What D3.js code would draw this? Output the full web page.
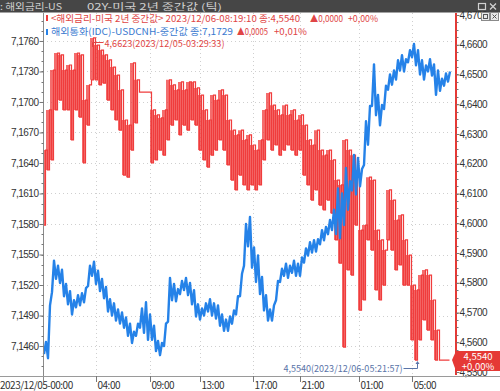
<!DOCTYPE html>
<html>
<head>
<meta charset="utf-8">
<script src="https://cdn.jsdelivr.net/npm/d3@7"></script>
<style>
  body { margin: 0; background: #fff; }
  svg { display: block; font-family: "Noto Sans CJK KR", "Noto Sans", sans-serif; }
</style>
</head>
<body>
<svg id="chart" width="500" height="391"></svg>
<script>
// x axis tick labels and where they sit (in tick-sample index units)
const xTickLabels = ["2023/12/05-00:00", "04:00", "09:00", "13:00", "17:00", "21:00", "01:00", "05:00"];
const xTickIdx = [0, 13.3, 26.8, 39.3, 52.5, 64.3, 79, 92.3];

// left axis (USDCNH) and right axis (US 2Y) tick values
const leftTicks = [7.1460, 7.1490, 7.1520, 7.1550, 7.1580, 7.1610, 7.1640, 7.1670, 7.1700, 7.1730, 7.1760];
const rightTicks = [4.55, 4.56, 4.57, 4.58, 4.59, 4.60, 4.61, 4.62, 4.63, 4.64, 4.65, 4.66, 4.67];

// US 2Y mid (right axis) - high / low of ticks in each sample slot
const redHigh = [4.6246, 4.6381, 4.6515, 4.6572, 4.6566, 4.6515, 4.6532, 4.6515, 4.6572, 4.6566,
  4.6414, 4.6465, 4.6623, 4.6599, 4.6582, 4.6566, 4.6549, 4.6525, 4.6498, 4.6448,
  4.6347, 4.6330, 4.6539, 4.6482, 4.6441, 4.6441, 4.6441, 4.6381, 4.6364, 4.6354,
  4.6381, 4.6482, 4.6465, 4.6448, 4.6475, 4.6448, 4.6475, 4.6475, 4.6455, 4.6431,
  4.6381, 4.6347, 4.6431, 4.6414, 4.6448, 4.6431, 4.6347, 4.6313, 4.6297, 4.6313,
  4.6280, 4.6297, 4.6263, 4.6246, 4.6280, 4.6381, 4.6438, 4.6397, 4.6381, 4.6364,
  4.6397, 4.6364, 4.6381, 4.6347, 4.6364, 4.6330, 4.6280, 4.6263, 4.6313, 4.6246,
  4.6229, 4.6246, 4.6213, 4.6145, 4.6129, 4.6280, 4.6246, 4.6229, 4.6179, 4.5977,
  4.5994, 4.6155, 4.6145, 4.5977, 4.5944, 4.5910, 4.6112, 4.6078, 4.6011, 4.6028,
  4.5944, 4.5893, 4.5792, 4.5776, 4.5826, 4.5843, 4.5826, 4.5742, 4.5641, 4.5540,
  4.5540, 4.5540];
const redLow = [4.5994, 4.6179, 4.6213, 4.6381, 4.6414, 4.6381, 4.6381, 4.6280, 4.6381, 4.6357,
  4.6203, 4.6330, 4.6482, 4.6482, 4.6465, 4.6471, 4.6414, 4.6381, 4.6347, 4.6313,
  4.6162, 4.6155, 4.6246, 4.6337, 4.6441, 4.6441, 4.6441, 4.6203, 4.6213, 4.6246,
  4.6229, 4.6280, 4.6330, 4.6347, 4.6297, 4.6330, 4.6313, 4.6347, 4.6330, 4.6246,
  4.6213, 4.6189, 4.6229, 4.6246, 4.6280, 4.6246, 4.6196, 4.6145, 4.6112, 4.6162,
  4.6129, 4.6112, 4.6129, 4.6112, 4.6129, 4.6213, 4.6280, 4.6246, 4.6263, 4.6229,
  4.6246, 4.6263, 4.6246, 4.6229, 4.6246, 4.6162, 4.6129, 4.6078, 4.6112, 4.6061,
  4.6045, 4.6078, 4.6034, 4.5944, 4.5866, 4.5584, 4.5843, 4.5826, 4.5994, 4.5708,
  4.5742, 4.5944, 4.5910, 4.5776, 4.5742, 4.5792, 4.5944, 4.5910, 4.5843, 4.5860,
  4.5792, 4.5792, 4.5608, 4.5540, 4.5608, 4.5675, 4.5641, 4.5608, 4.5540, 4.5540,
  4.5540, 4.5540];

// USDCNH mid (left axis) - high / low of ticks in each sample slot
const blueHigh = [7.1464, 7.1500, 7.1544, 7.1539, 7.1535, 7.1521, 7.1514, 7.1505, 7.1510, 7.1512,
  7.1517, 7.1539, 7.1543, 7.1534, 7.1526, 7.1518, 7.1506, 7.1502, 7.1496, 7.1493,
  7.1488, 7.1482, 7.1474, 7.1482, 7.1497, 7.1503, 7.1491, 7.1480, 7.1465, 7.1463,
  7.1482, 7.1527, 7.1521, 7.1516, 7.1524, 7.1527, 7.1522, 7.1515, 7.1501, 7.1497,
  7.1502, 7.1506, 7.1502, 7.1500, 7.1491, 7.1486, 7.1489, 7.1495, 7.1509, 7.1531,
  7.1580, 7.1587, 7.1557, 7.1549, 7.1528, 7.1510, 7.1496, 7.1500, 7.1524, 7.1536,
  7.1541, 7.1539, 7.1544, 7.1541, 7.1547, 7.1556, 7.1562, 7.1564, 7.1565, 7.1574,
  7.1577, 7.1584, 7.1594, 7.1615, 7.1610, 7.1635, 7.1622, 7.1648, 7.1645, 7.1634,
  7.1681, 7.1696, 7.1737, 7.1707, 7.1697, 7.1716, 7.1727, 7.1731, 7.1741, 7.1746,
  7.1742, 7.1751, 7.1757, 7.1751, 7.1741, 7.1736, 7.1742, 7.1737, 7.1731, 7.1723,
  7.1728, 7.1730];
const blueLow = [7.1452, 7.1448, 7.1513, 7.1526, 7.1522, 7.1509, 7.1501, 7.1491, 7.1498, 7.1500,
  7.1503, 7.1519, 7.1529, 7.1521, 7.1514, 7.1507, 7.1494, 7.1490, 7.1485, 7.1482,
  7.1478, 7.1470, 7.1463, 7.1470, 7.1478, 7.1473, 7.1466, 7.1466, 7.1455, 7.1451,
  7.1460, 7.1484, 7.1505, 7.1504, 7.1511, 7.1515, 7.1510, 7.1501, 7.1489, 7.1486,
  7.1490, 7.1494, 7.1490, 7.1487, 7.1480, 7.1475, 7.1475, 7.1482, 7.1491, 7.1509,
  7.1539, 7.1558, 7.1537, 7.1523, 7.1511, 7.1495, 7.1485, 7.1485, 7.1505, 7.1523,
  7.1529, 7.1527, 7.1532, 7.1529, 7.1529, 7.1542, 7.1549, 7.1552, 7.1553, 7.1560,
  7.1564, 7.1570, 7.1574, 7.1570, 7.1566, 7.1579, 7.1594, 7.1613, 7.1609, 7.1617,
  7.1638, 7.1658, 7.1696, 7.1687, 7.1677, 7.1693, 7.1712, 7.1717, 7.1722, 7.1731,
  7.1730, 7.1739, 7.1744, 7.1736, 7.1727, 7.1722, 7.1730, 7.1726, 7.1707, 7.1711,
  7.1716, 7.1720];

const RED = "#f03c3c";
const BLUE = "#2582e8";
const TXT = "#333";

let svg = d3.select("#chart");
let margin = { top: 13, left: 43, right: 45, bottom: 16 };
let plotRight = 500 - margin.right;
let plotBottom = 391 - margin.bottom;

let x = d3.scaleLinear().domain([0, 103]).range([margin.left, plotRight]);
let yL = d3.scaleLinear().domain([7.14315, 7.17875]).range([plotBottom, margin.top]);
let yR = d3.scaleLinear().domain([4.5490, 4.67067]).range([plotBottom, margin.top]);

let comma = function(v) { return d3.format(".4f")(v).replace(".", ","); };

// title bar
svg.append("rect").attr("x", 0).attr("y", 0).attr("width", 500).attr("height", 12.5).attr("fill", "#464646");
svg.append("text").attr("x", 0).attr("y", 9.5).attr("fill", "#d0d0d0").style("font-size", "9px")
    .attr("textLength", 62).attr("lengthAdjust", "spacingAndGlyphs")
    .text(": 해외금리-US");
svg.append("text").attr("x", 87).attr("y", 9.5).attr("fill", "#d0d0d0").style("font-size", "9px")
    .attr("textLength", 135).attr("lengthAdjust", "spacingAndGlyphs")
    .text("02Y-미국 2년 중간값 (틱)");
svg.append("rect").attr("x", 478.5).attr("y", 3.5).attr("width", 7).attr("height", 6)
    .attr("fill", "none").attr("stroke", "#d0d0d0").attr("stroke-width", 1.2);
svg.append("path").attr("d", "M490,3.5L496,9.5M496,3.5L490,9.5").attr("stroke", "#d0d0d0").attr("stroke-width", 1.3);

// grid
let grid = svg.append("g").attr("stroke", "#cfcfcf").attr("stroke-dasharray", "1,3").attr("stroke-width", 1);
leftTicks.forEach(function(t) {
    grid.append("line").attr("x1", margin.left).attr("x2", plotRight)
        .attr("y1", Math.round(yL(t)) + 0.5).attr("y2", Math.round(yL(t)) + 0.5);
});
xTickIdx.slice(1).forEach(function(t) {
    grid.append("line").attr("y1", margin.top).attr("y2", plotBottom)
        .attr("x1", Math.round(x(t)) + 0.5).attr("x2", Math.round(x(t)) + 0.5);
});

// series: each sample slot draws its low and high tick
let redPts = [];
for (let i = 0; i < redHigh.length; i++) {
    redPts.push([i, redLow[i]]);
    redPts.push([i + 0.5, redHigh[i]]);
}
let bluePts = [];
for (let i = 0; i < blueHigh.length; i++) {
    bluePts.push([i + 0.25, blueLow[i]]);
    bluePts.push([i + 0.75, blueHigh[i]]);
}

// red: the range each slot covers, lightly filled, with the tick steps over it
svg.append("path")
    .datum(d3.range(redHigh.length))
    .attr("fill", RED)
    .attr("fill-opacity", 0.75)
    .attr("d", d3.area()
        .x(function(i) { return x(i + 0.25); })
        .y0(function(i) { return yR(redLow[i]); })
        .y1(function(i) { return yR(redHigh[i]); })
        .curve(d3.curveStep));

svg.append("path")
    .datum(redPts)
    .attr("fill", "none")
    .attr("stroke", RED)
    .attr("stroke-width", 1.2)
    .attr("transform", "translate(0.5,0)")
    .attr("d", d3.line().x(function(d) { return x(d[0]); }).y(function(d) { return yR(d[1]); }).curve(d3.curveStepAfter));

svg.append("path")
    .datum(bluePts)
    .attr("fill", "none")
    .attr("stroke", BLUE)
    .attr("stroke-width", 2.4)
    .attr("stroke-linejoin", "round")
    .attr("d", d3.line().x(function(d) { return x(d[0]); }).y(function(d) { return yL(d[1]); }));

// left axis
let leftAxis = svg.append("g")
    .attr("transform", "translate(" + (margin.left + 0.5) + ",0)")
    .call(d3.axisLeft(yL).tickValues(leftTicks).tickFormat(comma).tickSizeOuter(0).tickSize(4).tickPadding(1));
leftAxis.select(".domain").attr("stroke", "#8a8a8a").attr("d", "M0," + margin.top + "V" + (plotBottom + 6));
leftAxis.selectAll(".tick line").attr("stroke", "#777");
leftAxis.selectAll("text").attr("fill", TXT).style("font-size", "10px").style("letter-spacing", "-0.5px");
let leftMinor = d3.range(7.1440, 7.1785, 0.001);
leftAxis.selectAll(".minor").data(leftMinor).enter().append("line")
    .attr("x1", -2).attr("x2", 0).attr("stroke", "#777")
    .attr("y1", function(d) { return Math.round(yL(d)) + 0.5; })
    .attr("y2", function(d) { return Math.round(yL(d)) + 0.5; });

// right axis
svg.append("line").attr("x1", plotRight + 1).attr("x2", plotRight + 1)
    .attr("y1", margin.top).attr("y2", plotBottom).attr("stroke", "#e53935").attr("stroke-width", 2);
let rightAxis = svg.append("g")
    .attr("transform", "translate(" + (plotRight + 1.5) + ",0)")
    .call(d3.axisRight(yR).tickValues(rightTicks).tickFormat(comma).tickSizeOuter(0).tickSize(3).tickPadding(0));
rightAxis.select(".domain").remove();
rightAxis.selectAll(".tick line").attr("stroke", "#777");
rightAxis.selectAll("text").attr("fill", TXT).style("font-size", "10px").style("letter-spacing", "-0.5px");
let rightMinor = d3.range(4.5500, 4.6701, 0.0025);
rightAxis.selectAll(".minor").data(rightMinor).enter().append("line")
    .attr("x1", 0).attr("x2", 2).attr("stroke", "#777")
    .attr("y1", function(d) { return Math.round(yR(d)) + 0.5; })
    .attr("y2", function(d) { return Math.round(yR(d)) + 0.5; });

// bottom axis
svg.append("line").attr("x1", 0).attr("x2", 500).attr("y1", plotBottom + 1.5).attr("y2", plotBottom + 1.5)
    .attr("stroke", "#9a9a9a");
let xg = svg.append("g");
xTickIdx.forEach(function(t, k) {
    let px = Math.round(x(t)) + 0.5;
    if (k > 0) {
        xg.append("line").attr("x1", px).attr("x2", px).attr("y1", plotBottom + 1).attr("y2", plotBottom + 7)
            .attr("stroke", "#777");
    }
    xg.append("text")
        .attr("x", k === 0 ? 0 : px + 1)
        .attr("y", 389)
        .attr("fill", TXT)
        .style("font-size", "10px")
        .style("letter-spacing", "-0.5px")
        .text(xTickLabels[k]);
});

// small boxes at the top of the right axis
svg.append("rect").attr("x", 481.5).attr("y", 12.5).attr("width", 8).attr("height", 8)
    .attr("fill", "#e8e8e8").attr("stroke", "#8a8a8a");
svg.append("rect").attr("x", 483.5).attr("y", 14.5).attr("width", 4).attr("height", 4)
    .attr("fill", "none").attr("stroke", "#555");
svg.append("rect").attr("x", 490.5).attr("y", 12.5).attr("width", 8).attr("height", 8)
    .attr("fill", "#e8e8e8").attr("stroke", "#8a8a8a");
svg.append("path").attr("d", "M492.5,14.5L496.5,18.5M496.5,14.5L492.5,18.5").attr("stroke", "#555");

// legend
let legend = svg.append("g").style("font-size", "9.5px");
legend.append("rect").attr("x", 46).attr("y", 15).attr("width", 2).attr("height", 6).attr("fill", RED);
legend.append("text").attr("x", 51).attr("y", 21.5).attr("fill", "#e04545")
    .attr("textLength", 249).attr("lengthAdjust", "spacingAndGlyphs")
    .text("<해외금리-미국 2년 중간값> 2023/12/06-08:19:10 종:4,5540");
legend.append("text").attr("x", 310).attr("y", 21.5).attr("fill", "#e04545")
    .attr("textLength", 33).attr("lengthAdjust", "spacingAndGlyphs").text("▲0,0000");
legend.append("text").attr("x", 348).attr("y", 21.5).attr("fill", "#e04545")
    .attr("textLength", 30).attr("lengthAdjust", "spacingAndGlyphs").text("+0,00%");

legend.append("rect").attr("x", 46).attr("y", 29).attr("width", 2).attr("height", 6).attr("fill", BLUE);
legend.append("text").attr("x", 51).attr("y", 35).attr("fill", "#3a7ad0")
    .attr("textLength", 182).attr("lengthAdjust", "spacingAndGlyphs")
    .text("해외통화(IDC)-USDCNH-중간값 종:7,1729");
legend.append("text").attr("x", 237).attr("y", 35).attr("fill", "#e04545")
    .attr("textLength", 31).attr("lengthAdjust", "spacingAndGlyphs").text("▲0,0005");
legend.append("text").attr("x", 274).attr("y", 35).attr("fill", "#e04545")
    .attr("textLength", 33).attr("lengthAdjust", "spacingAndGlyphs").text("+0,01%");

// max annotation
let maxIdx = redHigh.indexOf(d3.max(redHigh));
let maxX = Math.round(x(maxIdx + 0.5)) - 0.5;
let maxY = Math.round(yR(redHigh[maxIdx]));
svg.append("path").attr("d", "M" + maxX + "," + (maxY + 9) + "V" + (maxY + 4.5) + "H" + (maxX + 11))
    .attr("fill", "none").attr("stroke", "#e04545");
svg.append("text").attr("x", maxX + 12).attr("y", maxY + 9).attr("fill", "#e04545").style("font-size", "9.5px")
    .attr("textLength", 120).attr("lengthAdjust", "spacingAndGlyphs")
    .text(comma(redHigh[maxIdx]) + "(2023/12/05-03:29:33)");

// min annotation
let minIdx = redLow.indexOf(d3.min(redLow));
let minX = Math.round(x(minIdx + 0.5)) + 0.5;
let minY = Math.round(yR(redLow[minIdx]));
svg.append("path").attr("d", "M" + (minX - 14) + "," + (minY + 8.5) + "H" + minX + "V" + (minY + 2))
    .attr("fill", "none").attr("stroke", "#5a74a8");
svg.append("path").attr("d", "M" + (minX - 2) + "," + (minY + 4) + "L" + minX + "," + (minY + 1) + "L" + (minX + 2) + "," + (minY + 4) + "Z")
    .attr("fill", "#5a74a8");
svg.append("text").attr("x", minX - 134).attr("y", minY + 12).attr("fill", "#5a74a8").style("font-size", "9.5px")
    .attr("textLength", 119).attr("lengthAdjust", "spacingAndGlyphs")
    .text(comma(redLow[minIdx]) + "(2023/12/06-05:21:57)");

// last price tag on right axis
let lastV = redLow[redLow.length - 1];
let tagY = yR(lastV);
svg.append("path")
    .attr("d", "M" + (plotRight - 3) + "," + tagY + "L" + (plotRight + 1) + "," + (tagY - 9) + "H500V" + (tagY + 11) + "H" + (plotRight + 1) + "Z")
    .attr("fill", "#e53935");
svg.append("text").attr("x", 478).attr("y", tagY - 0.5).attr("text-anchor", "middle").attr("fill", "#fff")
    .style("font-size", "9.5px").text(comma(lastV));
svg.append("text").attr("x", 478).attr("y", tagY + 9.5).attr("text-anchor", "middle").attr("fill", "#fff")
    .style("font-size", "9.5px").text("+0,00%");
</script>
</body>
</html>
